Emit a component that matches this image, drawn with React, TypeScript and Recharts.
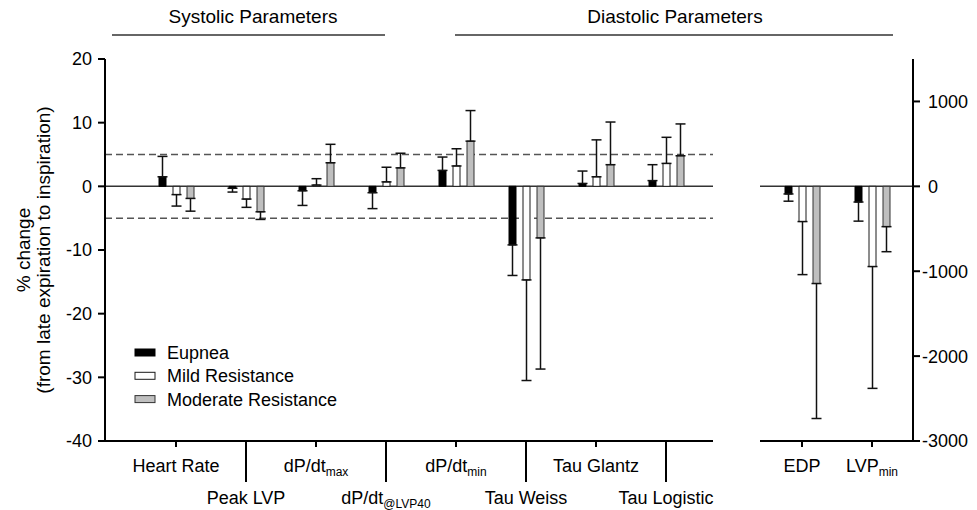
import React from 'react';
import { BarChart, Bar, XAxis, YAxis, ErrorBar, ReferenceLine } from 'recharts';

const FONT = '"Liberation Sans", Arial, Helvetica, sans-serif';

// ---- series ----
const seriesKeys = ['eupnea', 'mild', 'moderate'];
const seriesNames = ['Eupnea', 'Mild Resistance', 'Moderate Resistance'];
const seriesFills = ['#000000', '#ffffff', '#bfbfbf'];
const seriesStrokes = ['#000000', '#1a1a1a', '#333333'];

// ---- left panel (% change) ----
const leftCategories = ['Heart Rate', 'Peak LVP', 'dP/dt max', 'dP/dt @LVP40', 'dP/dt min', 'Tau Weiss', 'Tau Glantz', 'Tau Logistic'];
const leftLabelMain = ['Heart Rate', 'Peak LVP', 'dP/dt', 'dP/dt', 'dP/dt', 'Tau Weiss', 'Tau Glantz', 'Tau Logistic'];
const leftLabelSub = ['', '', 'max', '@LVP40', 'min', '', '', ''];

const leftEupnea = [1.5, -0.3, -0.7, -1.0, 2.5, -9.2, 0.45, 0.9];
const leftEupneaErr = [3.2, 0.6, 2.3, 2.5, 2.1, 4.8, 1.95, 2.5];
const leftMild = [-1.3, -2.0, 0.2, 0.7, 3.2, -14.7, 1.5, 3.6];
const leftMildErr = [1.8, 1.3, 1.0, 2.3, 2.7, 15.8, 5.8, 4.1];
const leftModerate = [-1.9, -4.0, 3.7, 2.9, 7.1, -8.1, 3.4, 4.8];
const leftModerateErr = [2.0, 1.2, 2.9, 2.3, 4.8, 20.6, 6.7, 5.0];
const leftTicks = [-40, -30, -20, -10, 0, 10, 20];
const thresholdLines = [5, -5];

// ---- right panel (absolute change) ----
const rightCategories = ['EDP', 'LVP min'];
const rightLabelMain = ['EDP', 'LVP'];
const rightLabelSub = ['', 'min'];
const rightEupnea = [-90, -185];
const rightEupneaErr = [85, 225];
const rightMild = [-415, -945];
const rightMildErr = [625, 1435];
const rightModerate = [-1145, -475];
const rightModerateErr = [1590, 295];
const rightTicks = [-3000, -2000, -1000, 0, 1000];

const oneSided = (v: number, e: number) => (v >= 0 ? [0, e] : [e, 0]);

const buildData = (cats: string[], a: number[], ae: number[], b: number[], be: number[], c: number[], ce: number[]) =>
  cats.map((cat, i) => ({
    category: cat,
    eupnea: a[i],
    eupneaErr: oneSided(a[i], ae[i]),
    mild: b[i],
    mildErr: oneSided(b[i], be[i]),
    moderate: c[i],
    moderateErr: oneSided(c[i], ce[i]),
  }));

const leftData = buildData(leftCategories, leftEupnea, leftEupneaErr, leftMild, leftMildErr, leftModerate, leftModerateErr);
const rightData = buildData(rightCategories, rightEupnea, rightEupneaErr, rightMild, rightMildErr, rightModerate, rightModerateErr);

const makeXTick = (cats: string[], mains: string[], subs: string[], alternate: boolean) => (props: any) => {
  const { x, y, payload } = props;
  const i = cats.indexOf(payload.value);
  const lower = alternate && i % 2 === 1;
  return (
    <g>
      <line x1={x} x2={x} y1={y} y2={y + (lower ? 41 : 6)} stroke="#000" strokeWidth={2} />
      <text x={x} y={y + (lower ? 63 : 31)} textAnchor="middle" fontSize={18} fontFamily={FONT} fill="#000">
        {mains[i]}
        {subs[i] ? (
          <tspan dy={4} fontSize={12}>
            {subs[i]}
          </tspan>
        ) : null}
      </text>
    </g>
  );
};

const renderRightYTick = (props: any) => {
  const { x, y, payload } = props;
  const v = payload.value as number;
  return (
    <text x={x - (v < 0 ? 6 : 0)} y={y} dy="0.355em" textAnchor="start" fontSize={18} fontFamily={FONT} fill="#000">
      {String(v)}
    </text>
  );
};

const renderBars = () =>
  seriesKeys.map((k, i) => (
    <Bar key={k} dataKey={k} fill={seriesFills[i]} stroke={seriesStrokes[i]} strokeWidth={1} isAnimationActive={false}>
      <ErrorBar dataKey={`${k}Err`} width={5} stroke="#111" strokeWidth={1.5} direction="y" isAnimationActive={false} />
    </Bar>
  ));

export default function App() {
  return (
    <div style={{ position: 'absolute', left: 0, top: 0, width: 977, height: 510, background: '#fff', fontFamily: FONT }}>
      <div style={{ position: 'absolute', left: 0, top: 0 }}>
        <BarChart width={760} height={510} data={leftData} margin={{ top: 59, right: 47, bottom: 0, left: 0 }} barSize={7} barGap={7}>
          <XAxis
            dataKey="category"
            height={69}
            padding={{ left: 36, right: 12 }}
            tickSize={0}
            tickMargin={0}
            tickLine={false}
            axisLine={{ stroke: '#000', strokeWidth: 2 }}
            tick={makeXTick(leftCategories, leftLabelMain, leftLabelSub, true)}
            interval={0}
          />
          <YAxis
            type="number"
            domain={[-40, 20]}
            ticks={leftTicks}
            allowDataOverflow
            width={105}
            tickSize={7}
            tickMargin={6}
            axisLine={{ stroke: '#000', strokeWidth: 2 }}
            tickLine={{ stroke: '#000', strokeWidth: 2 }}
            tick={{ fill: '#000', fontSize: 18, fontFamily: FONT }}
            interval={0}
          />
          {thresholdLines.map((v) => (
            <ReferenceLine key={v} y={v} stroke="#555" strokeWidth={1.5} strokeDasharray="7 4" zIndex={250} />
          ))}
          <ReferenceLine y={0} stroke="#333" strokeWidth={1.5} zIndex={250} />
          {renderBars()}
        </BarChart>
      </div>
      <div style={{ position: 'absolute', left: 700, top: 0 }}>
        <BarChart width={277} height={510} data={rightData} margin={{ top: 59, right: 0, bottom: 0, left: 60 }} barSize={7} barGap={7}>
          <XAxis
            dataKey="category"
            height={69}
            padding={{ left: 7, right: 6 }}
            tickSize={0}
            tickMargin={0}
            tickLine={false}
            axisLine={{ stroke: '#000', strokeWidth: 2 }}
            tick={makeXTick(rightCategories, rightLabelMain, rightLabelSub, false)}
            interval={0}
          />
          <YAxis
            type="number"
            orientation="right"
            domain={[-3000, 1500]}
            ticks={rightTicks}
            allowDataOverflow
            width={64}
            tickSize={7}
            tickMargin={8}
            axisLine={{ stroke: '#000', strokeWidth: 2 }}
            tickLine={{ stroke: '#000', strokeWidth: 2 }}
            tick={renderRightYTick}
            interval={0}
          />
          <ReferenceLine y={0} stroke="#333" strokeWidth={1.5} zIndex={250} />
          {renderBars()}
        </BarChart>
      </div>
      <svg width={977} height={510} style={{ position: 'absolute', left: 0, top: 0, pointerEvents: 'none' }}>
        <text x={253} y={23} textAnchor="middle" fontSize={19} fontFamily={FONT} fill="#000">Systolic Parameters</text>
        <line x1={112} x2={385} y1={35} y2={35} stroke="#333" strokeWidth={1.5} />
        <text x={675} y={23} textAnchor="middle" fontSize={19} fontFamily={FONT} fill="#000">Diastolic Parameters</text>
        <line x1={455} x2={893} y1={35} y2={35} stroke="#333" strokeWidth={1.5} />
        <text transform="translate(30,250) rotate(-90)" textAnchor="middle" fontSize={19} fontFamily={FONT} fill="#000">% change</text>
        <text transform="translate(50,250) rotate(-90)" textAnchor="middle" fontSize={19} fontFamily={FONT} fill="#000">(from late expiration to inspiration)</text>
        {seriesNames.map((name, i) => (
          <g key={name}>
            <rect x={135} y={349 + i * 23.3} width={20} height={7} fill={seriesFills[i]} stroke={seriesStrokes[i]} strokeWidth={1} />
            <text x={167} y={359 + i * 23.3} fontSize={18} fontFamily={FONT} fill="#000">{name}</text>
          </g>
        ))}
      </svg>
    </div>
  );
}
